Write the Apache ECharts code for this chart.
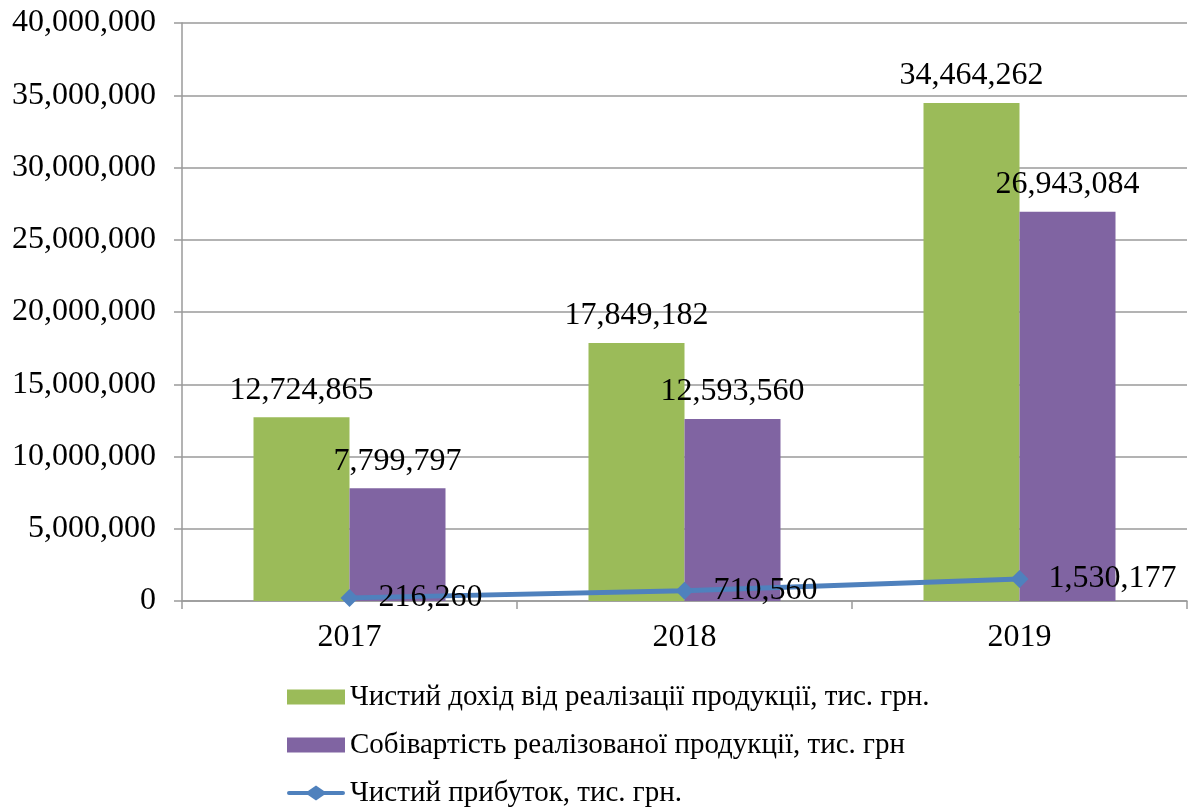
<!DOCTYPE html>
<html>
<head>
<meta charset="utf-8">
<script src="https://cdn.jsdelivr.net/npm/echarts@6/dist/echarts.min.js"></script>
<style>
html,body{margin:0;padding:0;background:#fff;}
#chart{width:1190px;height:811px;}
</style>
</head>
<body>
<div id="chart"></div>
<script>
const years = ['2017', '2018', '2019'];
const revenue = [12724865, 17849182, 34464262];
const cost = [7799797, 12593560, 26943084];
const profit = [216260, 710560, 1530177];
const seriesNames = [
  'Чистий дохід від реалізації продукції, тис. грн.',
  'Собівартість реалізованої продукції, тис. грн',
  'Чистий прибуток, тис. грн.'
];
const yMin = 0, yMax = 40000000, yStep = 5000000;

const FONT = "'Liberation Serif', 'Times New Roman', serif";
const FS = 32;
const fmt = v => Number(v).toLocaleString('en-US');
const chart = echarts.init(document.getElementById('chart'));
const gridColor = '#9a9a9a';
const lineIcon = 'path://M2,5.5 L21,5.5 L29,0 L37,5.5 L56,5.5 Q58,5.5 58,7.5 Q58,9.5 56,9.5 L37,9.5 L29,15 L21,9.5 L2,9.5 Q0,9.5 0,7.5 Q0,5.5 2,5.5 Z';

chart.setOption({
  animation: false,
  backgroundColor: '#ffffff',
  textStyle: { fontFamily: FONT, color: '#000' },
  grid: { left: 182, right: 3, top: 23, bottom: 210, containLabel: false },
  legend: {
    orient: 'vertical',
    left: 282,
    top: 677,
    height: 200,
    itemWidth: 58,
    itemHeight: 15,
    itemGap: 18,
    textStyle: { fontFamily: FONT, fontSize: 29, color: '#000', lineHeight: 30 },
    data: [
      { name: seriesNames[0], icon: 'rect' },
      { name: seriesNames[1], icon: 'rect' },
      { name: seriesNames[2], icon: lineIcon, itemStyle: { color: '#4f81bd' } }
    ]
  },
  xAxis: {
    type: 'category',
    data: years,
    boundaryGap: true,
    axisLine: { lineStyle: { color: gridColor, width: 1.5 } },
    axisTick: { show: true, length: 8, lineStyle: { color: gridColor, width: 1.5 } },
    axisLabel: { fontFamily: FONT, fontSize: FS, color: '#000', margin: 21 }
  },
  yAxis: {
    type: 'value',
    min: yMin, max: yMax, interval: yStep,
    axisLine: { show: true, lineStyle: { color: gridColor, width: 1.5 } },
    axisTick: { show: true, length: 8, lineStyle: { color: gridColor, width: 1.5 } },
    splitLine: { show: true, lineStyle: { color: gridColor, width: 1.5 } },
    axisLabel: { fontFamily: FONT, fontSize: FS, color: '#000', margin: 26, formatter: v => fmt(v) }
  },
  series: [
    {
      name: seriesNames[0], type: 'bar', data: revenue,
      barWidth: 96, barGap: '0%',
      itemStyle: { color: '#9bbb59' },
      label: { show: true, position: 'top', distance: 11, fontFamily: FONT, fontSize: FS, color: '#000', formatter: p => fmt(p.value) }
    },
    {
      name: seriesNames[1], type: 'bar', data: cost,
      barWidth: 96, barGap: '0%',
      itemStyle: { color: '#8064a2' },
      label: { show: true, position: 'top', distance: 11, fontFamily: FONT, fontSize: FS, color: '#000', formatter: p => fmt(p.value) }
    },
    {
      name: seriesNames[2], type: 'line', data: profit,
      symbol: 'diamond', symbolSize: 18,
      lineStyle: { color: '#4f81bd', width: 5, cap: 'round' },
      itemStyle: { color: '#4f81bd' },
      z: 5,
      label: { show: true, position: 'right', distance: 20, fontFamily: FONT, fontSize: FS, color: '#000', formatter: p => fmt(p.value) }
    }
  ]
});
</script>
</body>
</html>
